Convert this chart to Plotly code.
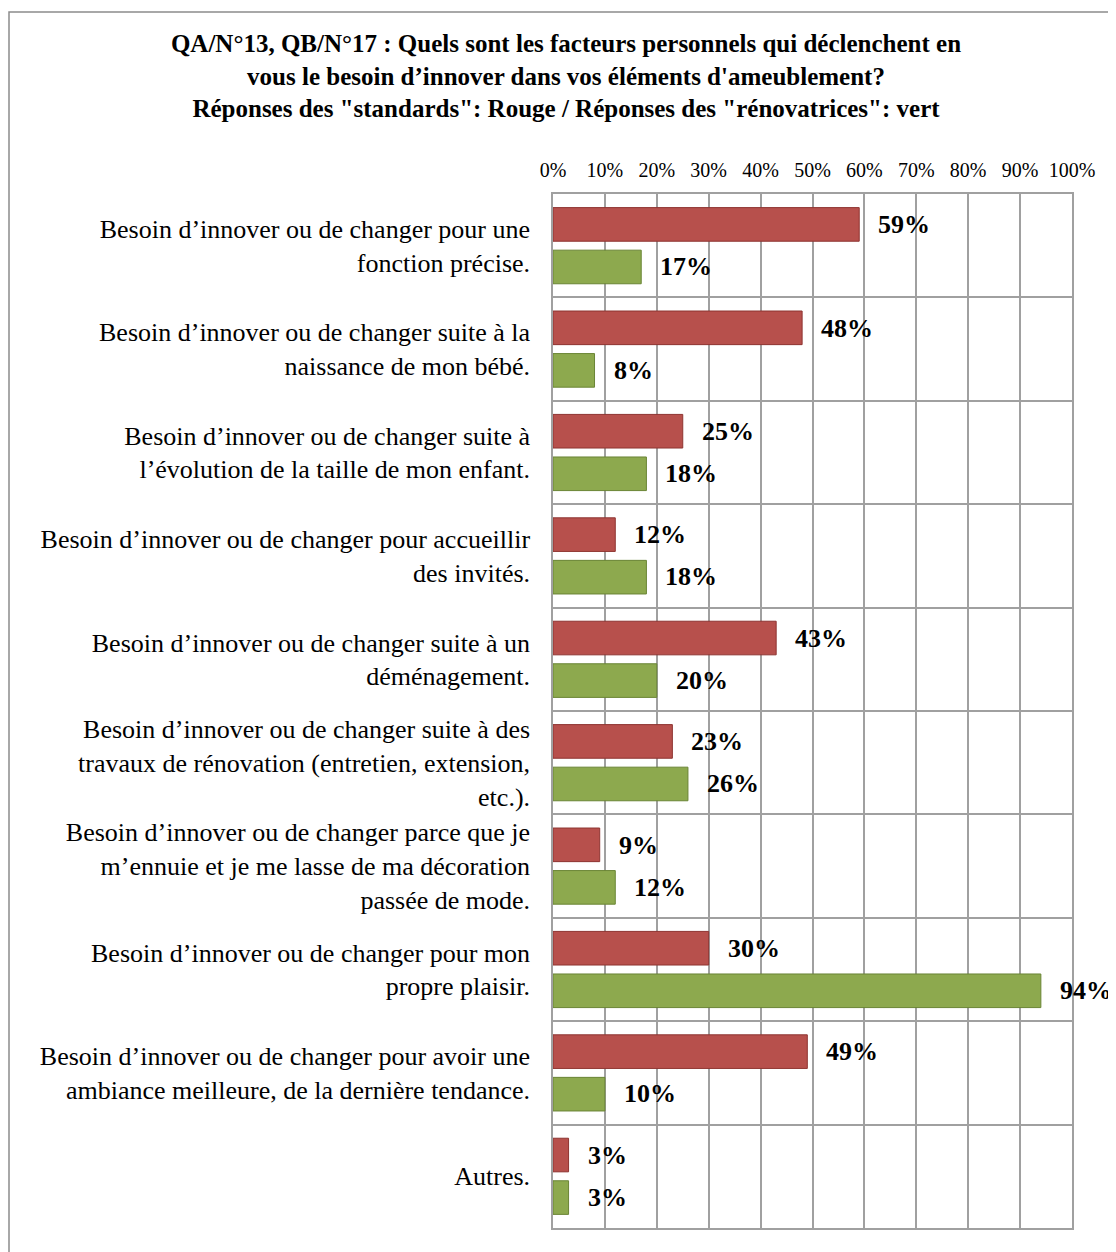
import plotly.graph_objects as go

categories = [
    "Besoin d’innover ou de changer pour une<br>fonction précise.",
    "Besoin d’innover ou de changer suite à la<br>naissance de mon bébé.",
    "Besoin d’innover ou de changer suite à<br>l’évolution de la taille de mon enfant.",
    "Besoin d’innover ou de changer pour accueillir<br>des invités.",
    "Besoin d’innover ou de changer suite à un<br>déménagement.",
    "Besoin d’innover ou de changer suite à des<br>travaux de rénovation (entretien, extension,<br>etc.).",
    "Besoin d’innover ou de changer parce que je<br>m’ennuie et je me lasse de ma décoration<br>passée de mode.",
    "Besoin d’innover ou de changer pour mon<br>propre plaisir.",
    "Besoin d’innover ou de changer pour avoir une<br>ambiance meilleure, de la dernière tendance.",
    "Autres.",
]
standards = [59, 48, 25, 12, 43, 23, 9, 30, 49, 3]
renovatrices = [17, 8, 18, 18, 20, 26, 12, 94, 10, 3]
x_ticks = [0, 10, 20, 30, 40, 50, 60, 70, 80, 90, 100]

title_text = ("<b>QA/N°13, QB/N°17 : Quels sont les facteurs personnels qui déclenchent en<br>"
              "vous le besoin d’innover dans vos éléments d'ameublement?<br>"
              "Réponses des \"standards\": Rouge / Réponses des \"rénovatrices\": vert</b>")

FONT = "Liberation Serif, Times New Roman, serif"
OFF = 8  # page body margin
W, H = 1116 - OFF, 1252 - OFF
# plot area in page pixels
L, R, T, B = 553, 1072, 194, 1228
l_m, r_m, t_m, b_m = L - OFF, (1116 - R), T - OFF, (1252 - B)

fig = go.Figure()
fig.add_trace(go.Bar(
    y=categories, x=standards, orientation="h", name="standards",
    marker=dict(color="#B7504C", line=dict(color="#8E3431", width=1)),
))
fig.add_trace(go.Bar(
    y=categories, x=renovatrices, orientation="h", name="rénovatrices",
    marker=dict(color="#8DA94E", line=dict(color="#6A8535", width=1)),
))

annotations = []
for cat, v in zip(categories, standards):
    annotations.append(dict(x=v, y=cat, xref="x", yref="y", text=f"<b>{v}%</b>",
                            showarrow=False, xanchor="left", yanchor="middle",
                            xshift=17, yshift=21,
                            font=dict(family=FONT, size=26, color="black")))
for cat, v in zip(categories, renovatrices):
    annotations.append(dict(x=v, y=cat, xref="x", yref="y", text=f"<b>{v}%</b>",
                            showarrow=False, xanchor="left", yanchor="middle",
                            xshift=17, yshift=-21,
                            font=dict(family=FONT, size=26, color="black")))

pw, ph = R - L, B - T
def px_x(p):
    return (p - L) / pw
def px_y(p):
    return (B - p) / ph

fig.update_layout(
    width=W, height=H,
    margin=dict(l=l_m, r=r_m, t=t_m, b=b_m, pad=0),
    paper_bgcolor="white", plot_bgcolor="white",
    showlegend=False,
    barmode="group", bargap=0.177, bargroupgap=0.21,
    title=dict(text=title_text, x=(566 - OFF) / W, xanchor="center", xref="container",
               y=1 - 44 / H, yanchor="top", yref="container",
               font=dict(family=FONT, size=25, color="black")),
    font=dict(family=FONT, color="black"),
    annotations=annotations,
    shapes=[dict(type="rect", xref="paper", yref="paper",
                 x0=px_x(9), x1=px_x(1140), y0=px_y(1270), y1=px_y(12),
                 line=dict(color="#8C8C8C", width=1.5), fillcolor="rgba(0,0,0,0)",
                 layer="below")],
)
fig.update_xaxes(
    side="top", range=[0, 100], tickvals=x_ticks,
    ticktext=[f"{t}%" for t in x_ticks],
    showgrid=True, gridcolor="#A0A0A0", gridwidth=1.5,
    showline=True, linecolor="#A0A0A0", linewidth=1.5, mirror=True,
    ticks="", ticklabelstandoff=7, zeroline=False,
    tickfont=dict(family=FONT, size=20, color="black"), fixedrange=True,
)
fig.update_yaxes(
    type="category", autorange="reversed", tickson="boundaries",
    showgrid=True, gridcolor="#A0A0A0", gridwidth=1.5,
    showline=True, linecolor="#A0A0A0", linewidth=1.5, mirror=True,
    ticks="", ticklabelstandoff=16,
    tickfont=dict(family=FONT, size=26, color="black"), fixedrange=True,
)

fig.write_html("out.html")
